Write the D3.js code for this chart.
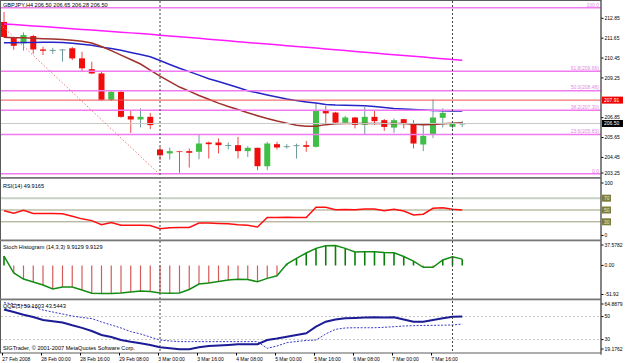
<!DOCTYPE html>
<html lang="en">
<head>
<meta charset="UTF-8">
<title>GBPJPY H4</title>
<script src="https://cdn.jsdelivr.net/npm/d3@7/dist/d3.min.js"></script>
<style>
    body { margin: 0; background: #fff; }
    svg text { font-family: "Liberation Sans", Arial, sans-serif; font-size: 5px; fill: #000; }
    svg text.title { font-size: 5.6px; }
</style>
</head>
<body>
<script>

    // chart size and plot edges
    var w = 625, h = 363;
    var left = 1, right = 601;

    // price candles (H4 bars, 27 Feb 08:00 .. 10 Mar 04:00)
    var opens = [212.63, 211.68, 211.34, 211.78, 210.97, 210.93, 210.96, 211.04, 210.43, 209.78,
        209.52, 207.93, 208.41, 206.94, 206.74, 206.90, 204.93, 204.69, 204.83, 204.83,
        204.79, 205.35, 205.35, 205.17, 205.19, 204.83, 205.03, 203.92, 205.25, 205.10,
        205.15, 205.19, 205.09, 207.25, 207.16, 206.55, 206.86, 206.42, 206.90, 206.70,
        206.25, 206.76, 206.50, 205.23, 205.84, 206.84, 206.30, 206.50];
    var highs = [213.23, 211.70, 212.00, 211.85, 211.13, 211.07, 211.00, 211.13, 210.83, 210.23,
        209.66, 208.45, 208.50, 207.26, 207.41, 207.14, 205.09, 205.05, 204.85, 204.99,
        205.80, 205.40, 205.60, 205.35, 205.69, 205.13, 205.05, 205.39, 205.39, 205.25,
        205.28, 205.45, 207.71, 207.55, 207.20, 206.96, 206.90, 207.50, 207.26, 206.77,
        206.80, 206.78, 206.70, 206.40, 207.95, 207.41, 206.60, 206.65];
    var lows = [211.68, 210.95, 210.90, 210.70, 210.63, 210.70, 210.23, 210.33, 209.62, 209.48,
        207.88, 207.85, 206.85, 205.93, 206.26, 206.16, 204.28, 204.32, 203.52, 203.84,
        204.34, 204.38, 204.69, 204.93, 204.38, 204.48, 203.68, 203.68, 204.93, 204.98,
        204.38, 204.79, 205.05, 206.49, 206.50, 206.51, 206.20, 205.84, 206.42, 206.05,
        205.93, 206.20, 204.99, 204.83, 205.63, 206.26, 206.20, 206.28];
    var closes = [211.72, 211.19, 211.84, 210.97, 210.89, 210.94, 210.97, 210.43, 209.83, 209.52,
        207.93, 208.41, 206.90, 206.74, 206.90, 206.40, 204.58, 204.83, 204.80, 204.73,
        205.29, 205.25, 205.19, 205.20, 204.83, 205.03, 203.92, 205.29, 205.05, 205.13,
        205.19, 205.09, 207.25, 207.11, 206.55, 206.86, 206.42, 206.90, 206.64, 206.29,
        206.70, 206.50, 205.29, 205.75, 206.86, 207.14, 206.50, 206.50];

    // moving averages
    var maLong = [212.51, 212.47, 212.43, 212.39, 212.35, 212.31, 212.26, 212.22, 212.18, 212.14,
        212.10, 212.06, 212.01, 211.97, 211.93, 211.88, 211.83, 211.78, 211.73, 211.69,
        211.64, 211.59, 211.54, 211.49, 211.44, 211.39, 211.34, 211.30, 211.25, 211.20,
        211.15, 211.10, 211.05, 211.00, 210.95, 210.90, 210.85, 210.80, 210.75, 210.70,
        210.65, 210.60, 210.56, 210.51, 210.46, 210.41, 210.36, 210.31];
    var maMid = [211.38, 211.38, 211.39, 211.39, 211.40, 211.40, 211.39, 211.34, 211.28, 211.22,
        211.11, 211.02, 210.92, 210.79, 210.66, 210.53, 210.30, 210.06, 209.83, 209.63,
        209.42, 209.20, 209.03, 208.85, 208.67, 208.48, 208.35, 208.22, 208.10, 207.98,
        207.88, 207.80, 207.73, 207.65, 207.61, 207.60, 207.58, 207.57, 207.52, 207.47,
        207.41, 207.38, 207.35, 207.32, 207.29, 207.27, 207.26, 207.25];
    var maFast = [211.70, 211.68, 211.67, 211.65, 211.62, 211.60, 211.57, 211.52, 211.46, 211.36,
        211.15, 210.90, 210.63, 210.36, 210.09, 209.72, 209.36, 209.03, 208.70, 208.45,
        208.19, 207.96, 207.73, 207.52, 207.34, 207.15, 206.97, 206.80, 206.65, 206.52,
        206.39, 206.33, 206.33, 206.43, 206.49, 206.50, 206.50, 206.50, 206.50, 206.50,
        206.50, 206.50, 206.46, 206.43, 206.44, 206.49, 206.52, 206.54];

    // indicators
    var rsi = [48.8, 44.5, 49.5, 44.0, 44.0, 44.0, 43.8, 39.5, 35.0, 32.0,
        25.0, 28.8, 24.0, 24.0, 24.0, 23.8, 18.3, 20.0, 20.5, 20.5,
        27.8, 27.8, 27.0, 26.5, 25.0, 24.0, 21.2, 37.2, 37.2, 37.5,
        37.2, 37.2, 54.5, 54.5, 50.5, 51.0, 50.5, 51.7, 51.5, 48.8,
        51.2, 48.3, 41.7, 42.8, 52.8, 53.8, 51.2, 49.9];
    var stochHist = [14.8, -11.9, -21.4, -26.0, -30.8, -37.0, -34.0, -34.0, -38.6, -43.8,
        -44.0, -44.0, -43.3, -41.8, -40.2, -41.0, -43.3, -43.8, -43.3, -37.8,
        -29.2, -27.6, -25.3, -23.0, -21.8, -22.1, -25.6, -20.3, -16.2, 2.2,
        11.1, 19.5, 26.8, 30.9, 31.2, 26.8, 21.0, 21.5, 21.5, 20.3,
        20.0, 14.0, 6.9, -3.0, -3.0, 8.5, 13.7, 9.9];
    var qqe = [56.2, 54.0, 51.6, 49.7, 47.0, 46.0, 44.9, 42.4, 40.2, 37.5,
        34.0, 32.2, 29.6, 28.1, 26.8, 25.3, 23.3, 22.4, 21.5, 21.5,
        23.3, 24.4, 24.8, 25.3, 25.9, 25.9, 25.9, 29.6, 30.9, 32.5,
        34.0, 35.5, 41.2, 45.6, 47.5, 48.5, 48.8, 49.2, 49.4, 49.2,
        49.4, 47.5, 45.6, 45.6, 47.0, 48.5, 49.9, 50.16];
    var qqeSignal = [62.1, 61.0, 59.7, 58.4, 55.7, 54.0, 52.3, 50.5, 49.2, 48.3,
        45.3, 42.7, 40.1, 36.9, 34.9, 32.2, 29.6, 28.8, 28.2, 28.2,
        28.2, 28.2, 28.2, 28.2, 28.2, 28.2, 28.2, 22.4, 24.4, 27.3,
        28.3, 29.2, 29.6, 34.9, 38.9, 40.1, 40.3, 40.3, 40.3, 40.7,
        41.2, 41.8, 42.1, 42.3, 42.4, 42.5, 42.7, 43.54];

    // axis labels
    var timeTickBars = [0, 4, 8, 12, 16, 20, 24, 28, 32, 36, 40, 44];
    var timeLabels = ["27 Feb 2008", "28 Feb 00:00", "28 Feb 16:00", "29 Feb 08:00", "3 Mar 00:00",
        "3 Mar 16:00", "4 Mar 08:00", "5 Mar 00:00", "5 Mar 16:00", "6 Mar 08:00", "7 Mar 00:00", "7 Mar 16:00"];
    var priceTicks = [212.85, 211.65, 210.45, 209.25, 206.85, 205.65, 204.45, 203.25];
    var rsiTicks = [100, 0];
    var rsiLevels = [70, 50, 30];
    var stochTicks = [37.5782, 0, -51.92];
    var qqeTicks = [64.8879, 50, 30, 19.1762];
    var qqeLevels = [50, 30];

    // objects on the price chart
    var fibPct = [100, 61.8, 50, 38.2, 23.6, 0];
    var fibPrice = [213.49, 209.66, 208.48, 207.30, 205.83, 203.46];
    var fibBars = [-2.2, 15.9];
    var askPrice = 207.91, bidPrice = 206.50;
    var weekStartBars = [16, 46];

    // panels
    var panels = {
        main:  { top: 1,   bottom: 177 },
        rsi:   { top: 179, bottom: 239.5 },
        stoch: { top: 241, bottom: 298.5 },
        qqe:   { top: 300, bottom: 353 }
    };

    var svg = d3.select("body").append("svg")
        .attr("width", w).attr("height", h);

    // scales
    var x = d3.scaleLinear().domain([0, 47]).range([4, 462.25]);
    var yMain = d3.scaleLinear().domain([203.25, 212.85]).range([177.3, 18.3]);
    var yRsi = d3.scaleLinear().domain([0, 100]).range([239.5, 180.5]);
    var ySt = d3.scaleLinear().domain([-51.92, 37.5782]).range([298.5, 241.5]);
    var yQ = d3.scaleLinear().domain([19.1762, 64.8879]).range([352, 299.5]);

    // clip each panel
    var defs = svg.append("defs");
    Object.keys(panels).forEach(function(k) {
        var p = panels[k];
        defs.append("clipPath").attr("id", "clip-" + k)
            .append("rect").attr("x", left).attr("y", p.top)
            .attr("width", right - left).attr("height", p.bottom - p.top);
    });

    var gMain = svg.append("g").attr("clip-path", "url(#clip-main)");
    var gRsi = svg.append("g").attr("clip-path", "url(#clip-rsi)");
    var gSt = svg.append("g").attr("clip-path", "url(#clip-stoch)");
    var gQ = svg.append("g").attr("clip-path", "url(#clip-qqe)");

    var idx = d3.range(opens.length);

    //candles: wicks then bodies
    gMain.selectAll("line.wick")
        .data(idx).enter().append("line")
        .attr("class", "wick")
        .attr("x1", function(i) { return x(i); })
        .attr("x2", function(i) { return x(i); })
        .attr("y1", function(i) { return yMain(highs[i]); })
        .attr("y2", function(i) { return yMain(lows[i]); })
        .attr("stroke", function(i) { return closes[i] >= opens[i] ? "#6f9c9a" : "#f04848"; })
        .attr("stroke-width", 1);

    gMain.selectAll("rect.body")
        .data(idx).enter().append("rect")
        .attr("class", "body")
        .attr("x", function(i) { return x(i) - 3; })
        .attr("width", 6)
        .attr("y", function(i) { return yMain(Math.max(opens[i], closes[i])); })
        .attr("height", function(i) {
            return Math.max(1, Math.abs(yMain(opens[i]) - yMain(closes[i])));
        })
        .attr("fill", function(i) {
            if (Math.abs(closes[i] - opens[i]) < 0.04) return closes[i] >= opens[i] ? "#6f9c9a" : "#f04848";
            return closes[i] >= opens[i] ? "#3fbf46" : "#f20d0d";
        });

    // moving averages
    function maLine(arr) {
        return d3.line().x(function(d, i) { return x(i); }).y(function(d) { return yMain(d); })(arr);
    }
    gMain.append("path").attr("d", maLine(maLong)).attr("fill", "none")
        .attr("stroke", "#ff1aff").attr("stroke-width", 1.5);
    gMain.append("path").attr("d", maLine(maMid)).attr("fill", "none")
        .attr("stroke", "#2424c8").attr("stroke-width", 1.5);
    gMain.append("path").attr("d", maLine(maFast)).attr("fill", "none")
        .attr("stroke", "#a0302c").attr("stroke-width", 1.5);

    // bid / ask lines
    gMain.append("line").attr("x1", left).attr("x2", right)
        .attr("y1", yMain(bidPrice)).attr("y2", yMain(bidPrice))
        .attr("stroke", "#c8c8c8").attr("stroke-width", 1);
    gMain.append("line").attr("x1", left).attr("x2", right)
        .attr("y1", yMain(askPrice)).attr("y2", yMain(askPrice))
        .attr("stroke", "#f05050").attr("stroke-width", 1);

    // fibonacci levels
    gMain.selectAll("line.fib")
        .data(fibPrice).enter().append("line")
        .attr("class", "fib")
        .attr("x1", left).attr("x2", right)
        .attr("y1", function(d) { return yMain(d); })
        .attr("y2", function(d) { return yMain(d); })
        .attr("stroke", "#f07af0").attr("stroke-width", 1.5);
    gMain.selectAll("text.fib")
        .data(fibPrice).enter().append("text")
        .attr("class", "fib")
        .attr("x", right - 2)
        .attr("y", function(d) { return yMain(d) - 1.2; })
        .attr("text-anchor", "end")
        .style("fill", "#e28ae2")
        .text(function(d, i) {
            var p = fibPct[i].toFixed(1);
            return (fibPct[i] === 100 || fibPct[i] === 0) ? p : p + "(" + d.toFixed(2) + ")";
        });
    gMain.append("line")
        .attr("x1", x(fibBars[0])).attr("y1", yMain(fibPrice[0]))
        .attr("x2", x(fibBars[1])).attr("y2", yMain(fibPrice[fibPrice.length - 1]))
        .attr("stroke", "#ec7a7a").attr("stroke-width", 1)
        .attr("stroke-dasharray", "1.5,2");

    // RSI
    gRsi.selectAll("line.level")
        .data(rsiLevels).enter().append("line")
        .attr("class", "level")
        .attr("x1", left).attr("x2", right)
        .attr("y1", function(d) { return yRsi(d); })
        .attr("y2", function(d) { return yRsi(d); })
        .attr("stroke", function(d) { return d === 70 ? "#c6d2c2" : "#9c9c7a"; })
        .attr("stroke-width", function(d) { return d === 70 ? 2 : 1; });
    gRsi.append("path")
        .attr("d", d3.line().x(function(d, i) { return x(i); }).y(function(d) { return yRsi(d); })(rsi))
        .attr("fill", "none").attr("stroke", "#ff1010").attr("stroke-width", 1.5);

    // Stoch histogram
    gSt.selectAll("line.hist")
        .data(idx).enter().append("line")
        .attr("class", "hist")
        .attr("x1", function(i) { return x(i); })
        .attr("x2", function(i) { return x(i); })
        .attr("y1", ySt(0))
        .attr("y2", function(i) { return ySt(stochHist[i]); })
        .attr("stroke", function(i) { return stochHist[i] >= 0 ? "#0a800a" : "#d85a5a"; })
        .attr("stroke-width", function(i) { return stochHist[i] >= 0 ? 1.6 : 1.2; });
    gSt.append("path")
        .attr("d", d3.line().x(function(d, i) { return x(i); }).y(function(d) { return ySt(d); })(stochHist))
        .attr("fill", "none").attr("stroke", "#148c14").attr("stroke-width", 1.5);

    // QQE
    gQ.selectAll("line.level")
        .data(qqeLevels).enter().append("line")
        .attr("class", "level")
        .attr("x1", left).attr("x2", right)
        .attr("y1", function(d) { return yQ(d); })
        .attr("y2", function(d) { return yQ(d); })
        .attr("stroke", "#c4c4c4").attr("stroke-width", 1)
        .attr("stroke-dasharray", "2,2");
    gQ.append("path")
        .attr("d", d3.line().x(function(d, i) { return x(i); }).y(function(d) { return yQ(d); })(qqeSignal))
        .attr("fill", "none").attr("stroke", "#3a3ac8").attr("stroke-width", 1)
        .attr("stroke-dasharray", "2,1.5");
    gQ.append("path")
        .attr("d", d3.line().x(function(d, i) { return x(i); }).y(function(d) { return yQ(d); })(qqe))
        .attr("fill", "none").attr("stroke", "#1c1c96").attr("stroke-width", 2);

    // week separators
    svg.selectAll("line.sep")
        .data(weekStartBars).enter().append("line")
        .attr("class", "sep")
        .attr("x1", function(d) { return x(d); })
        .attr("x2", function(d) { return x(d); })
        .attr("y1", 1).attr("y2", panels.qqe.bottom)
        .attr("stroke", "#444").attr("stroke-width", 1)
        .attr("stroke-dasharray", "2,2");

    // frames and panel separators
    svg.append("rect").attr("x", 0.5).attr("y", 0.5)
        .attr("width", right - 0.5).attr("height", panels.qqe.bottom - 0.5)
        .attr("fill", "none").attr("stroke", "#5a5a5a").attr("stroke-width", 1);
    [panels.main.bottom, panels.rsi.bottom, panels.stoch.bottom].forEach(function(yy) {
        svg.append("rect").attr("x", 0).attr("y", yy).attr("width", right)
            .attr("height", 1.8).attr("fill", "#787878");
    });

    // right axes
    function rightAxis(scale, ticks, fmt, panel) {
        var g = svg.append("g").attr("transform", "translate(" + right + ",0)")
            .call(d3.axisRight(scale).tickValues(ticks).tickFormat(fmt).tickSize(2.5).tickPadding(1));
        g.select(".domain").remove();
        g.selectAll(".tick").attr("transform", function(d) {
            var yy = Math.max(panel.top + 4, Math.min(panel.bottom - 4, scale(d)));
            return "translate(0," + yy + ")";
        });
        return g;
    }
    rightAxis(yMain, priceTicks, d3.format(".2f"), panels.main);
    rightAxis(yRsi, rsiTicks, d3.format("d"), panels.rsi);
    rightAxis(ySt, stochTicks, function(d) { return d === 0 ? "0.00" : String(d); }, panels.stoch);
    rightAxis(yQ, qqeTicks, function(d) { return String(d); }, panels.qqe);

    svg.append("line").attr("x1", right).attr("x2", right)
        .attr("y1", 0).attr("y2", panels.qqe.bottom + 2)
        .attr("stroke", "#5a5a5a");

    // boxed labels
    function boxLabel(yy, txt, bg, fg, wd) {
        svg.append("rect").attr("x", right + 1).attr("y", yy - 3.5)
            .attr("width", wd).attr("height", 7).attr("fill", bg);
        svg.append("text").attr("x", right + 3).attr("y", yy + 1.8)
            .style("fill", fg).text(txt);
    }
    boxLabel(yMain(askPrice), askPrice.toFixed(2), "#f00000", "#fff", 21);
    boxLabel(yMain(bidPrice), bidPrice.toFixed(2), "#000", "#fff", 21);
    rsiLevels.forEach(function(l) { boxLabel(yRsi(l), String(l), "#7e7e3c", "#e8e8d0", 9); });

    // time axis
    var gx = svg.append("g").attr("transform", "translate(0," + panels.qqe.bottom + ")")
        .call(d3.axisBottom(x).tickValues(timeTickBars)
            .tickFormat(function(d, i) { return timeLabels[i]; })
            .tickSize(2.5).tickPadding(1.5));
    gx.select(".domain").remove();
    gx.selectAll(".tick text").attr("text-anchor", "start").attr("x", -2.3);
    gx.selectAll(".tick line").attr("transform", "translate(-2,0)");

    // titles
    var titles = [
        { y: 7, t: "GBPJPY,H4 206.50 206.65 206.28 206.50" },
        { y: 187.5, t: "RSI(14) 49.9165" },
        { y: 248.5, t: "Stoch Histogram (14,3,3) 9.9129 9.9129" },
        { y: 307.5, t: "QQE(5) 50.1603 43.5443" },
        { y: 350, t: "SIGTrader, \u00a9 2001-2007 MetaQuotes Software Corp." }
    ];
    svg.selectAll("text.title")
        .data(titles).enter().append("text")
        .attr("class", "title")
        .attr("x", 3)
        .attr("y", function(d) { return d.y; })
        .text(function(d) { return d.t; });

</script>
</body>
</html>
